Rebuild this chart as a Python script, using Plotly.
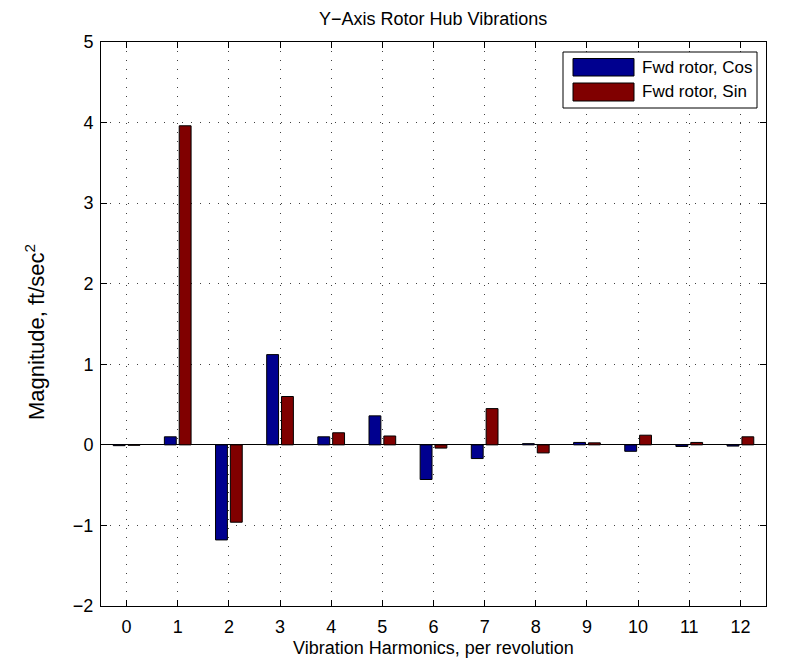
import plotly.graph_objects as go

# Harmonic orders and the cosine / sine components of the Y-axis hub acceleration
harmonics = list(range(13))
cos_vals = [-0.01, 0.10, -1.18, 1.12, 0.10, 0.36, -0.43, -0.17, 0.015, 0.03, -0.08, -0.02, -0.015]
sin_vals = [-0.005, 3.96, -0.96, 0.60, 0.15, 0.11, -0.04, 0.45, -0.10, 0.025, 0.12, 0.03, 0.10]
series_names = ["Fwd rotor, Cos", "Fwd rotor, Sin"]
series_colors = ["rgb(0,0,143)", "rgb(128,0,0)"]
y_ticks = list(range(-2, 6))

W, H = 786, 663
ML, MR, MT, MB = 101, 20, 42, 57
FONT = "Liberation Sans, Arial, Helvetica, sans-serif"
FS = 18


def px(x):
    return (x - ML) / (W - ML - MR)


def py(y):
    return (H - MB - y) / (H - MT - MB)


fig = go.Figure()
for name, vals, col in zip(series_names, [cos_vals, sin_vals], series_colors):
    fig.add_trace(go.Bar(
        x=harmonics, y=vals, name=name,
        marker=dict(color=col, line=dict(color="black", width=1)),
        showlegend=False,
    ))

grid = dict(showgrid=True, gridcolor="rgba(0,0,0,0.75)", gridwidth=1, griddash="1px,8px")

fig.update_layout(
    width=W, height=H,
    margin=dict(l=ML, r=MR, t=MT, b=MB),
    paper_bgcolor="white", plot_bgcolor="white",
    barmode="group", bargap=0.42, bargroupgap=0.2,
    font=dict(family=FONT, size=FS, color="black"),
    xaxis=dict(
        range=[-0.5, 12.5], tickvals=harmonics, ticktext=[str(h) for h in harmonics],
        ticks="inside", ticklen=6, tickcolor="black",
        showline=True, linecolor="black", linewidth=1, mirror="ticks",
        zeroline=False, ticklabelstandoff=4, **grid,
    ),
    yaxis=dict(
        range=[-2, 5], tickvals=y_ticks,
        ticks="inside", ticklen=6, tickcolor="black",
        showline=True, linecolor="black", linewidth=1, mirror="ticks",
        zeroline=True, zerolinecolor="black", zerolinewidth=1,
        ticklabelstandoff=3, **grid,
    ),
)

# Title and axis labels
fig.add_annotation(x=px(433), y=py(19), xref="paper", yref="paper",
                   text="Y\u2212Axis Rotor Hub Vibrations", showarrow=False,
                   font=dict(size=FS), xanchor="center", yanchor="middle")
fig.add_annotation(x=px(433), y=py(648), xref="paper", yref="paper",
                   text="Vibration Harmonics, per revolution", showarrow=False,
                   font=dict(size=FS), xanchor="center", yanchor="middle")
fig.add_annotation(x=px(35), y=py(332), xref="paper", yref="paper",
                   text="Magnitude, ft/sec<sup>2</sup>", showarrow=False, textangle=-90,
                   font=dict(size=22), xanchor="center", yanchor="middle")

# Legend box with wide colour swatches
fig.add_shape(type="rect", xref="paper", yref="paper",
              x0=px(563), x1=px(757), y0=py(108), y1=py(52),
              line=dict(color="black", width=1), fillcolor="white", layer="above")
rows = [(58.5, 76), (83, 101)]
for (top, bot), name, col in zip(rows, series_names, series_colors):
    fig.add_shape(type="rect", xref="paper", yref="paper",
                  x0=px(573), x1=px(634), y0=py(bot), y1=py(top),
                  line=dict(color="black", width=1), fillcolor=col, layer="above")
    fig.add_annotation(x=px(640), y=py((top + bot) / 2), xref="paper", yref="paper",
                       text=name, showarrow=False, font=dict(size=17),
                       xanchor="left", yanchor="middle")

fig.write_html("out.html")
